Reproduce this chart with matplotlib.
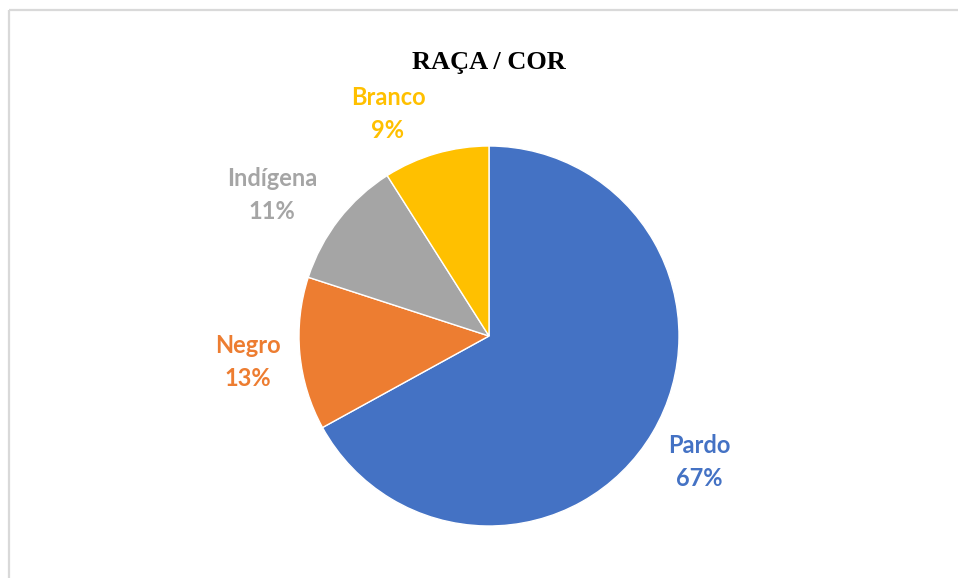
import matplotlib.pyplot as plt

labels = ['Pardo', 'Negro', 'Indígena', 'Branco']
values = [67, 13, 11, 9]
colors = ['#4472C4', '#ED7D31', '#A5A5A5', '#FFC000']

# label anchor points (pixels, from top-left)
label_pos = [(699, 462), (248, 362), (272, 195), (388, 114)]

W, H = 958, 578
fig = plt.figure(figsize=(W / 100, H / 100), dpi=100)
ax = fig.add_axes([0, 0, 1, 1])
ax.set_xlim(0, W)
ax.set_ylim(H, 0)
ax.axis('off')

# chart area border (only left and top visible)
ax.plot([9, 9], [H, 10], color='#D9D9D9', lw=1.6, solid_capstyle='butt')
ax.plot([9, W], [10, 10], color='#D9D9D9', lw=1.6, solid_capstyle='butt')

# pie drawn in a separate axes so it stays circular
pie_ax = fig.add_axes([0, 0, 1, 1])
pie_ax.pie(values, colors=colors, startangle=90, counterclock=False,
           center=(489, H - 336), radius=190, frame=True,
           wedgeprops=dict(edgecolor='white', linewidth=1))
pie_ax.set_aspect('equal')
pie_ax.set_xlim(0, W)
pie_ax.set_ylim(0, H)
pie_ax.axis('off')

for lab, val, col, (x, y) in zip(labels, values, colors, label_pos):
    ax.text(x, y, f'{lab}\n{val}%', color=col, ha='center', va='center',
            fontsize=17, fontweight='bold', family='Lato', linespacing=1.5)

ax.text(489, 62, 'RAÇA / COR', ha='center', va='center', fontsize=19,
        fontweight='bold', family='Liberation Serif')

fig.savefig('out.png', dpi=100)
